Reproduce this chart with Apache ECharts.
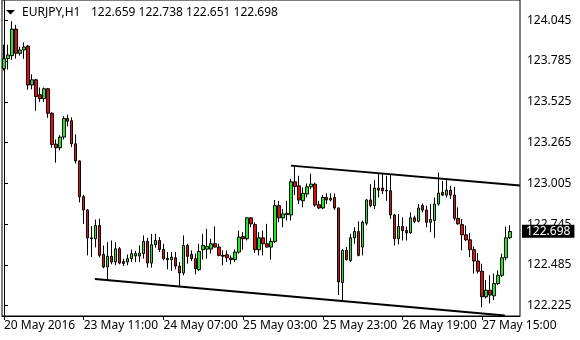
<!DOCTYPE html>
<html><head><meta charset="utf-8">
<script src="https://cdn.jsdelivr.net/npm/echarts@6/dist/echarts.min.js"></script>
<style>html,body{margin:0;padding:0;background:#fff}#c{width:580px;height:340px}</style>
</head><body><div id="c"></div>
<script>
const symbolName = 'EURJPY,H1';
const lastOHLC = [122.659, 122.738, 122.651, 122.698];

const open = [
123.737,123.800,123.819,123.988,123.834,123.855,123.880,123.632,123.665,123.570,
123.545,123.608,123.452,123.255,123.232,123.300,123.418,123.404,123.257,123.148,
122.920,122.835,122.658,122.652,122.736,122.552,122.472,122.540,122.504,122.588,
122.506,122.504,122.525,122.542,122.542,122.557,122.635,122.497,122.614,122.641,
122.584,122.527,122.519,122.531,122.478,122.434,122.609,122.552,122.525,122.455,
122.582,122.586,122.586,122.620,122.599,122.546,122.550,122.529,122.519,122.567,
122.666,122.652,122.785,122.742,122.582,122.658,122.620,122.599,122.635,122.863,
122.785,122.806,122.804,123.015,122.989,122.894,122.937,122.983,123.000,122.869,
122.848,122.915,122.899,122.915,122.848,122.373,122.578,122.514,122.658,122.698,
122.599,122.751,122.899,122.863,122.975,122.975,122.961,122.958,122.804,122.652,
122.730,122.704,122.690,122.785,122.763,122.863,122.835,122.757,122.768,122.873,
122.947,122.930,122.962,122.930,122.782,122.742,122.677,122.645,122.582,122.510,
122.445,122.282,122.324,122.288,122.367,122.419,122.531,122.659];
const close = [
123.800,123.823,123.988,123.834,123.855,123.874,123.632,123.665,123.559,123.545,
123.608,123.452,123.253,123.232,123.300,123.418,123.401,123.257,123.148,122.920,
122.835,122.658,122.652,122.736,122.546,122.472,122.540,122.504,122.588,122.497,
122.494,122.525,122.557,122.557,122.561,122.635,122.497,122.614,122.641,122.584,
122.525,122.519,122.535,122.478,122.434,122.609,122.540,122.525,122.462,122.571,
122.609,122.603,122.620,122.599,122.546,122.541,122.531,122.519,122.567,122.662,
122.652,122.785,122.747,122.582,122.658,122.620,122.599,122.635,122.863,122.785,
122.810,122.814,123.015,122.985,122.899,122.941,122.983,123.000,122.867,122.848,
122.915,122.899,122.909,122.848,122.377,122.578,122.519,122.658,122.698,122.546,
122.757,122.899,122.863,122.975,122.962,122.958,122.956,122.804,122.652,122.730,
122.704,122.690,122.785,122.763,122.848,122.835,122.757,122.774,122.873,122.943,
122.930,122.962,122.930,122.782,122.747,122.677,122.645,122.582,122.510,122.445,
122.282,122.324,122.293,122.367,122.419,122.531,122.658,122.698];
const low = [
123.724,123.730,123.792,123.800,123.819,123.798,123.602,123.604,123.467,123.523,
123.523,123.422,123.232,123.137,123.215,123.285,123.369,123.236,123.131,122.884,
122.747,122.546,122.535,122.597,122.533,122.464,122.388,122.489,122.483,122.489,
122.478,122.483,122.504,122.503,122.504,122.525,122.468,122.468,122.595,122.567,
122.514,122.457,122.447,122.457,122.345,122.419,122.493,122.510,122.426,122.447,
122.519,122.525,122.557,122.595,122.540,122.483,122.504,122.489,122.504,122.557,
122.582,122.641,122.725,122.561,122.546,122.546,122.595,122.519,122.624,122.757,
122.725,122.768,122.768,122.930,122.873,122.852,122.915,122.968,122.856,122.842,
122.842,122.873,122.890,122.835,122.293,122.250,122.514,122.504,122.620,122.540,
122.546,122.736,122.852,122.842,122.915,122.937,122.894,122.778,122.609,122.616,
122.641,122.641,122.683,122.751,122.757,122.820,122.725,122.694,122.658,122.863,
122.926,122.915,122.905,122.768,122.742,122.578,122.637,122.535,122.430,122.430,
122.215,122.272,122.240,122.261,122.356,122.408,122.514,122.651];
const high = [
123.889,123.889,124.039,124.015,123.876,123.903,123.887,123.700,123.671,123.616,
123.616,123.613,123.458,123.285,123.312,123.433,123.443,123.426,123.317,123.152,
122.932,122.840,122.733,122.774,122.780,122.609,122.630,122.641,122.630,122.599,
122.525,122.552,122.582,122.575,122.609,122.673,122.658,122.683,122.683,122.662,
122.620,122.567,122.567,122.567,122.504,122.673,122.620,122.578,122.557,122.620,
122.683,122.715,122.652,122.730,122.620,122.578,122.578,122.546,122.584,122.704,
122.694,122.789,122.789,122.757,122.694,122.704,122.747,122.658,122.899,122.894,
122.842,122.894,123.034,123.118,123.053,122.979,123.004,123.067,123.010,122.894,
122.932,122.941,122.941,122.941,122.852,122.586,122.599,122.683,122.725,122.763,
122.768,122.905,123.000,123.025,123.067,123.067,123.053,123.063,122.810,122.810,
122.789,122.730,122.820,122.799,122.873,122.877,122.863,122.873,122.915,123.074,
123.021,123.025,122.989,122.983,122.852,122.778,122.736,122.687,122.603,122.561,
122.493,122.388,122.419,122.430,122.451,122.557,122.730,122.738];

const yTicks = [122.225, 122.485, 122.745, 123.005, 123.265, 123.525, 123.785, 124.045];
const xTickLabels = ['20 May 2016','23 May 11:00','24 May 07:00','25 May 03:00','25 May 23:00','26 May 19:00','27 May 15:00'];
const xTickStep = 20;
// trend lines: [bar index, price]
const upperLine = [[72, 123.118], [129.5, 122.991]];
const lowerLine = [[22.8, 122.396], [125.7, 122.163]];

// hourly bar times, weekend skipped
const months = ['Jan','Feb','Mar','Apr','May','Jun','Jul','Aug','Sep','Oct','Nov','Dec'];
const times = [];
let t = Date.UTC(2016, 4, 20, 15);
while (times.length < open.length) {
  const d = new Date(t);
  const wd = d.getUTCDay();
  if (wd !== 0 && wd !== 6) {
    times.push(d.getUTCDate() + ' ' + months[d.getUTCMonth()] + ' ' + String(d.getUTCHours()).padStart(2,'0') + ':00');
  }
  t += 3600000;
}
const cats = times.concat(['', '']);
const candles = open.map((o, i) => [o, close[i], low[i], high[i]]);

const FONT = '"Noto Sans", "DejaVu Sans", sans-serif';
const showTick = (i) => i % xTickStep === 0 && i / xTickStep < xTickLabels.length;

const chart = echarts.init(document.getElementById('c'), null, {renderer: 'canvas'});
chart.setOption({
  animation: false,
  backgroundColor: '#fff',
  grid: {left: 2, right: 60, top: -2, bottom: 24, show: true, borderColor: '#000', borderWidth: 1, backgroundColor: 'transparent'},
  xAxis: [{
    type: 'category', data: cats, boundaryGap: true,
    axisLine: {show: true, lineStyle: {color: '#000', width: 1}},
    axisTick: {show: true, alignWithLabel: true, interval: showTick, length: 4, lineStyle: {color: '#000'}},
    axisLabel: {interval: showTick, align: 'left', margin: 4, color: '#000', fontFamily: FONT, fontSize: 12,
      formatter: (v, i) => xTickLabels[i / xTickStep]},
    splitLine: {show: false}
  }, {
    type: 'value', min: -0.5, max: cats.length - 0.5, show: false
  }],
  yAxis: {
    type: 'value', position: 'right', min: 122.1596, max: 124.1736, scale: true,
    axisLine: {show: true, lineStyle: {color: '#000', width: 1}},
    axisTick: {show: true, length: 4, customValues: yTicks, lineStyle: {color: '#000'}},
    axisLabel: {customValues: yTicks, margin: 7, color: '#000', fontFamily: FONT, fontSize: 12,
      formatter: (v) => v.toFixed(3)},
    splitLine: {show: false}
  },
  series: [{
    type: 'candlestick', data: candles, barWidth: 3,
    itemStyle: {color: '#00ff00', color0: '#ff0000', borderColor: '#000', borderColor0: '#000', borderWidth: 1},
    markLine: {
      silent: true, symbol: 'none', animation: false,
      lineStyle: {color: 'rgba(0,0,0,0)', width: 0},
      label: {show: true, position: 'end', distance: 2, formatter: lastOHLC[3].toFixed(3), color: '#fff',
        backgroundColor: '#000', padding: [1, 4, 0, 4], fontFamily: FONT, fontSize: 12},
      data: [{yAxis: lastOHLC[3]}]
    }
  }, {
    type: 'line', xAxisIndex: 1, data: upperLine, symbol: 'none', silent: true, z: 5,
    lineStyle: {color: '#000', width: 2}
  }, {
    type: 'line', xAxisIndex: 1, data: lowerLine, symbol: 'none', silent: true, z: 5,
    lineStyle: {color: '#000', width: 2}
  }],
  graphic: [
    {type: 'polygon', shape: {points: [[6, 10], [15, 10], [10.5, 14.5]]}, style: {fill: '#000'}},
    {type: 'text', x: 22, y: 13, style: {text: symbolName, font: '12px ' + FONT, fill: '#000', verticalAlign: 'middle'}},
    {type: 'text', x: 91, y: 13, style: {text: lastOHLC.map(v => v.toFixed(3)).join(' '), font: '12px ' + FONT, fill: '#000', verticalAlign: 'middle'}}
  ]
});
</script>
</body></html>
